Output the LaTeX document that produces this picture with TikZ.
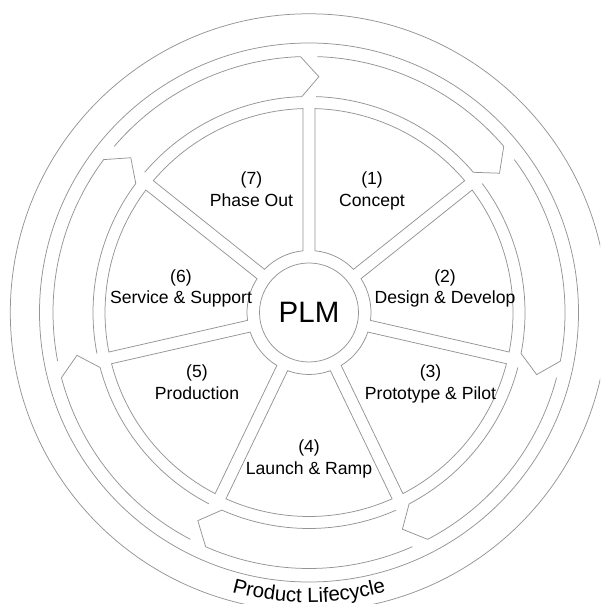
\documentclass[tikz,border=0pt]{standalone}
\usepackage{fontspec}
\setmainfont{Liberation Sans}
\usetikzlibrary{decorations.text}
\newcommand\lblfont{\fontsize{17.6}{21}\selectfont}
\newcommand\plmfont{\fontsize{29.5}{34}\selectfont}
\newcommand\lcfont{\fontsize{20.5}{24}\selectfont}
\begin{document}
\begin{tikzpicture}[x=1pt,y=1pt,
  ln/.style={draw=black!42, line width=0.75pt, line join=miter},
  lbl/.style={font=\lblfont, anchor=base, inner sep=0pt, text=black}]
\useasboundingbox (0,0) rectangle (600,604);
\clip (0,0) rectangle (600,604);
\coordinate (C) at (309,291.5);
\begin{scope}[shift={(C)}]
  % outer rings
  \draw[ln] (0,0) circle[radius=298.7];
  \draw[ln] (0,0) circle[radius=269.5];
  % lifecycle arrows
  \foreach \k in {0,...,6} {
    \pgfmathsetmacro\tip{87.6-51.4286*\k}
    \pgfmathsetmacro\hb{\tip+4.3}
    \pgfmathsetmacro\tl{\tip+51.4286+0.5}
    \draw[ln] (\tl:256) arc[start angle=\tl, end angle=\hb, radius=256]
      -- (\tip:236) -- (\hb:216) arc[start angle=\hb, end angle=\tl, radius=216];
  }
  % wheel sectors
  \foreach \k in {0,...,6} {
    \pgfmathsetmacro\aa{90-51.4286*\k}
    \pgfmathsetmacro\ab{\aa-51.4286}
    \pgfmathsetmacro\oa{\aa-asin(6/204)}
    \pgfmathsetmacro\ob{\ab+asin(6/204)}
    \pgfmathsetmacro\ia{\aa-asin(6/62)}
    \pgfmathsetmacro\ib{\ab+asin(6/62)}
    \draw[ln] (\oa:204) arc[start angle=\oa, end angle=\ob, radius=204]
      -- (\ib:62) arc[start angle=\ib, end angle=\ia, radius=62] -- cycle;
  }
  % title along the bottom
  \path[decorate, decoration={text along path, text={|\lcfont|Product Lifecycle}, text align=center}]
    (230:290) arc[start angle=230, end angle=310, radius=290];
\end{scope}
\node[circle, ln, minimum size=99pt, inner sep=0pt, font=\plmfont] (plm) at (C) {PLM};
% labels
\node[lbl] (n7) at (251.5,419) {(7)};
\node[lbl] (t7) at (251.5,397.2) {Phase Out};
\node[lbl] (n1) at (372,419) {(1)};
\node[lbl] (t1) at (372,397.2) {Concept};
\node[lbl] (n2) at (445,321.4) {(2)};
\node[lbl] (t2) at (445,300.4) {Design \& Develop};
\node[lbl] (n6) at (181,321.4) {(6)};
\node[lbl] (t6) at (181,300.4) {Service \& Support};
\node[lbl] (n3) at (430.5,226.3) {(3)};
\node[lbl] (t3) at (430.5,204.6) {Prototype \& Pilot};
\node[lbl] (n5) at (197,226.3) {(5)};
\node[lbl] (t5) at (197,204.6) {Production};
\node[lbl] (n4) at (309,151.5) {(4)};
\node[lbl] (t4) at (309,129.8) {Launch \& Ramp};
\end{tikzpicture}
\end{document}
